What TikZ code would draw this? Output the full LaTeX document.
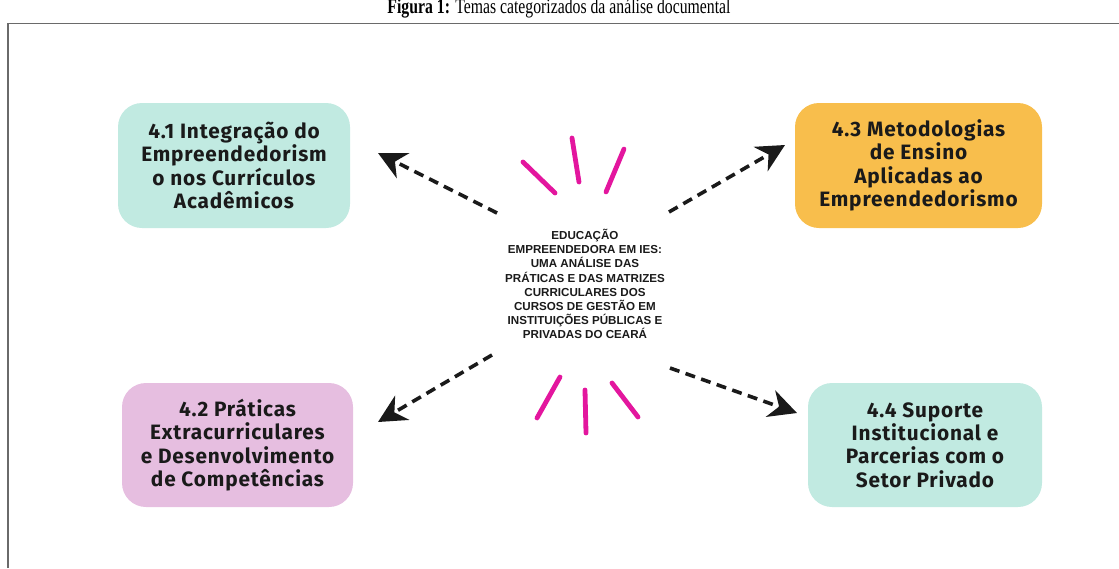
\documentclass[tikz,border=0pt]{standalone}
\usepackage{fontspec}
\setmainfont{Liberation Serif}
\newfontfamily\capfont[FakeStretch=0.75]{Liberation Serif}
\newfontfamily\boxfont[LetterSpace=4]{Fira Sans}
\newfontfamily\centerfont{Liberation Sans}
\usetikzlibrary{arrows.meta}
\definecolor{tealbox}{HTML}{C1EAE1}
\definecolor{goldbox}{HTML}{F8BE4C}
\definecolor{lilacbox}{HTML}{E6BEE0}
\definecolor{pinkc}{HTML}{E3169E}
\definecolor{framec}{HTML}{6A6A6A}
\definecolor{inkc}{HTML}{1A1A1A}
\tikzset{
  topic/.style={fill=#1, rounded corners=24pt, inner sep=0pt, align=center,
    text=inkc, font=\boxfont\bfseries\fontsize{20.8}{23.3}\selectfont},
  dasharrow/.style={draw=inkc, line width=3.6pt, dash pattern=on 10pt off 6.5pt,
    -{Stealth[length=28pt,width=28pt,inset=9pt]}},
  brush/.style={draw=pinkc, line width=4.8pt, line cap=round},
}
\begin{document}
\begin{tikzpicture}[x=1pt,y=-1pt]
\useasboundingbox (0,0) rectangle (1119,568);
% caption (cropped at top)
\node[anchor=base, inner sep=0pt, font=\capfont\fontsize{21}{21}\selectfont] (cap) at (559,13.5)
  {\textbf{Figura 1:} Temas categorizados da análise documental};
% frame
\coordinate (fbl) at (8,568);
\coordinate (ftl) at (8,23.5);
\coordinate (ftr) at (1119,23.5);
\draw[framec, line width=1.4pt] (fbl) -- (ftl) -- (ftr);
% topic boxes
\node[topic=tealbox, minimum width=232pt, minimum height=125pt] (b41) at (234,165.5)
  {4.1 Integração do\\Empreendedorism\\o nos Currículos\\Acadêmicos};
\node[topic=goldbox, minimum width=247pt, minimum height=125pt] (b43) at (918.5,165.5)
  {4.3 Metodologias\\de Ensino\\Aplicadas ao\\Empreendedorismo};
\node[topic=lilacbox, minimum width=231pt, minimum height=124pt] (b42) at (237.5,445)
  {4.2 Práticas\\Extracurriculares\\e Desenvolvimento\\de Competências};
\node[topic=tealbox, minimum width=234pt, minimum height=124pt] (b44) at (925,445)
  {4.4 Suporte\\Institucional e\\Parcerias com o\\Setor Privado};
% centre text
\node[align=center, inner sep=0pt, text=inkc,
  font=\centerfont\bfseries\fontsize{11.6}{14.2}\selectfont] (ctr) at (585,284)
  {EDUCAÇÃO\\EMPREENDEDORA EM IES:\\UMA ANÁLISE DAS\\PRÁTICAS E DAS MATRIZES\\CURRICULARES DOS\\CURSOS DE GESTÃO EM\\INSTITUIÇÕES PÚBLICAS E\\PRIVADAS DO CEARÁ};
% arrows
\coordinate (t1) at (497,213); \coordinate (h1) at (378,153);
\coordinate (t3) at (669,212); \coordinate (h3) at (785,145);
\coordinate (t2) at (492,355); \coordinate (h2) at (378,422);
\coordinate (t4) at (670,368); \coordinate (h4) at (797,413);
\draw[dasharrow] (t1) -- (h1);
\draw[dasharrow] (t3) -- (h3);
\draw[dasharrow] (t2) -- (h2);
\draw[dasharrow] (t4) -- (h4);
% pink brush strokes
\draw[brush] (523,162) -- (555,193);
\draw[brush] (572,138) -- (579,182);
\draw[brush] (624,149) -- (606,192);
\draw[brush] (560,377) -- (537,418);
\draw[brush] (585,390) -- (586,433);
\draw[brush] (612,383) -- (638,417);
\end{tikzpicture}
\end{document}
